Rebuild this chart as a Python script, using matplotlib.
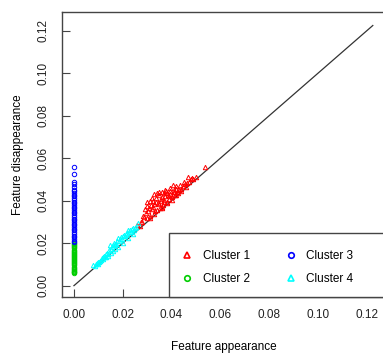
from matplotlib import pyplot as plt
from matplotlib.lines import Line2D
from matplotlib.patches import Rectangle

plt.rcParams["font.family"] = ["Liberation Sans", "DejaVu Sans"]

# cluster 1 (red triangles)
c1_x = [0.0537, 0.0482, 0.0462, 0.0434, 0.0407, 0.0380, 0.0359, 0.0445,
        0.0420, 0.0395, 0.0375, 0.0350, 0.0330, 0.0310, 0.0290, 0.0275,
        0.0257, 0.0300, 0.0320, 0.0340, 0.0360, 0.0385, 0.0410, 0.0430,
        0.0455, 0.0470, 0.0490, 0.0500, 0.0345, 0.0325, 0.0305, 0.0285,
        0.0335, 0.0355, 0.0370, 0.0390, 0.0315, 0.0295, 0.0280, 0.0365,
        0.0400, 0.0415, 0.0440, 0.0425, 0.0352, 0.0332, 0.0312, 0.0382,
        0.0362, 0.0342, 0.0298, 0.0318, 0.0372, 0.0392, 0.0408, 0.0270,
        0.0300, 0.0322, 0.0338, 0.0348, 0.0368, 0.0378, 0.0308, 0.0328,
        0.0288, 0.0358, 0.0395, 0.0418, 0.0450, 0.0468, 0.0478, 0.0360,
        0.0380, 0.0400, 0.0420, 0.0440, 0.0460, 0.0330, 0.0310, 0.0421,
        0.0350, 0.0370, 0.0390, 0.0410]
c1_y = [0.0559, 0.0505, 0.0482, 0.0474, 0.0474, 0.0435, 0.0442, 0.0470,
        0.0455, 0.0448, 0.0452, 0.0440, 0.0430, 0.0400, 0.0360, 0.0300,
        0.0286, 0.0395, 0.0412, 0.0435, 0.0418, 0.0425, 0.0440, 0.0452,
        0.0478, 0.0488, 0.0500, 0.0512, 0.0390, 0.0370, 0.0350, 0.0330,
        0.0395, 0.0400, 0.0405, 0.0410, 0.0380, 0.0340, 0.0301, 0.0380,
        0.0418, 0.0425, 0.0455, 0.0438, 0.0365, 0.0350, 0.0330, 0.0395,
        0.0372, 0.0355, 0.0318, 0.0360, 0.0420, 0.0432, 0.0428, 0.0280,
        0.0375, 0.0400, 0.0415, 0.0425, 0.0435, 0.0445, 0.0365, 0.0385,
        0.0325, 0.0410, 0.0460, 0.0470, 0.0490, 0.0510, 0.0500, 0.0368,
        0.0388, 0.0405, 0.0428, 0.0446, 0.0466, 0.0338, 0.0318, 0.0442,
        0.0385, 0.0395, 0.0420, 0.0450]

# cluster 2 (green circles), all at x = 0
c2_y = [0.0058, 0.0062, 0.0066, 0.0070, 0.0075, 0.0080, 0.0085, 0.0090,
        0.0095, 0.0100, 0.0105, 0.0110, 0.0115, 0.0120, 0.0125, 0.0130,
        0.0135, 0.0140, 0.0145, 0.0150, 0.0155, 0.0160, 0.0165, 0.0170,
        0.0175, 0.0180, 0.0185, 0.0190, 0.0195, 0.0200]
c2_x = [0.0] * len(c2_y)

# cluster 3 (blue circles), all at x = 0
c3_y = [0.0205, 0.0212, 0.0220, 0.0228, 0.0236, 0.0244, 0.0252, 0.0260,
        0.0268, 0.0276, 0.0284, 0.0292, 0.0300, 0.0308, 0.0316, 0.0324,
        0.0332, 0.0340, 0.0348, 0.0356, 0.0364, 0.0372, 0.0380, 0.0388,
        0.0396, 0.0404, 0.0412, 0.0420, 0.0428, 0.0436, 0.0444, 0.0450,
        0.0466, 0.0477, 0.0487, 0.0526, 0.0560]
c3_x = [0.0] * len(c3_y)

# cluster 4 (cyan triangles)
c4_x = [0.0079, 0.0085, 0.0090, 0.0095, 0.0100, 0.0104, 0.0108, 0.0112,
        0.0115, 0.0120, 0.0124, 0.0128, 0.0132, 0.0136, 0.0140, 0.0144,
        0.0148, 0.0152, 0.0156, 0.0160, 0.0163, 0.0167, 0.0170, 0.0174,
        0.0178, 0.0182, 0.0186, 0.0190, 0.0194, 0.0198, 0.0202, 0.0206,
        0.0210, 0.0214, 0.0218, 0.0223, 0.0226, 0.0230, 0.0234, 0.0238,
        0.0242, 0.0246, 0.0250, 0.0255, 0.0264, 0.0120, 0.0140, 0.0160,
        0.0180, 0.0200, 0.0220, 0.0240, 0.0100, 0.0130, 0.0150, 0.0170]
c4_y = [0.0097, 0.0092, 0.0100, 0.0105, 0.0112, 0.0110, 0.0118, 0.0122,
        0.0128, 0.0133, 0.0138, 0.0137, 0.0147, 0.0152, 0.0150, 0.0168,
        0.0192, 0.0172, 0.0180, 0.0190, 0.0200, 0.0192, 0.0198, 0.0195,
        0.0208, 0.0223, 0.0210, 0.0218, 0.0228, 0.0222, 0.0232, 0.0240,
        0.0234, 0.0244, 0.0250, 0.0262, 0.0255, 0.0260, 0.0254, 0.0266,
        0.0270, 0.0262, 0.0272, 0.0278, 0.0294, 0.0125, 0.0142, 0.0164,
        0.0183, 0.0203, 0.0224, 0.0244, 0.0102, 0.0134, 0.0155, 0.0174]

diag = [0.0, 0.1225]
ticks = [0.00, 0.02, 0.04, 0.06, 0.08, 0.10, 0.12]
labels = ["Cluster 1", "Cluster 2", "Cluster 3", "Cluster 4"]

fig = plt.figure(figsize=(3.83, 3.53), dpi=100)
ax = fig.add_axes([62 / 383, 1 - 296.7 / 353, 323 / 383, 285 / 353])

ax.plot(diag, diag, color="#333333", lw=0.9)
ms = 3.2
ax.plot(c1_x, c1_y, ls="none", marker="^", ms=ms, mfc="none", mec="red", mew=0.7)
ax.plot(c2_x, c2_y, ls="none", marker="o", ms=ms, mfc="none", mec="#00CD00", mew=0.7)
ax.plot(c3_x, c3_y, ls="none", marker="o", ms=ms, mfc="none", mec="blue", mew=0.7)
ax.plot(c4_x, c4_y, ls="none", marker="^", ms=ms, mfc="none", mec="cyan", mew=0.7)

ax.set_xlim(-0.0049, 0.1275)
ax.set_ylim(-0.0052, 0.129)
ax.set_xticks(ticks)
ax.set_yticks(ticks)
ax.set_xticklabels([f"{t:.2f}" for t in ticks])
ax.set_yticklabels([f"{t:.2f}" for t in ticks], rotation=90, va="center")
ax.tick_params(direction="in", length=6, width=0.8, color="#444444",
               labelsize=8.5, labelcolor="#222222", pad=9)
for s in ax.spines.values():
    s.set_color("#444444")
    s.set_linewidth(1)

ax.set_xlabel("Feature appearance", fontsize=8.5, labelpad=14)
ax.set_ylabel("Feature disappearance", fontsize=8.5, labelpad=10)

# legend box (runs off the right edge like the original)
ax.add_patch(Rectangle((0.331, 0.0), 0.7, 0.2235, transform=ax.transAxes,
                       facecolor="white", edgecolor="#444444", lw=1,
                       zorder=5, clip_on=False))
handles = [
    Line2D([], [], ls="none", marker="^", ms=4, mfc="none", mec="red", mew=1.2),
    Line2D([], [], ls="none", marker="o", ms=4, mfc="none", mec="#00CD00", mew=1.2),
    Line2D([], [], ls="none", marker="o", ms=4, mfc="none", mec="blue", mew=1.2),
    Line2D([], [], ls="none", marker="^", ms=4, mfc="none", mec="cyan", mew=1.2),
]
leg = ax.legend(handles, labels, ncol=2, loc="center left",
                bbox_to_anchor=(0.331, 0.103), fontsize=8.5, frameon=False,
                handlelength=1.0, handletextpad=0.8, borderaxespad=0,
                borderpad=1.05, columnspacing=3.0, labelspacing=0.9)
leg.set_zorder(6)

fig.savefig("out.png", dpi=100)
